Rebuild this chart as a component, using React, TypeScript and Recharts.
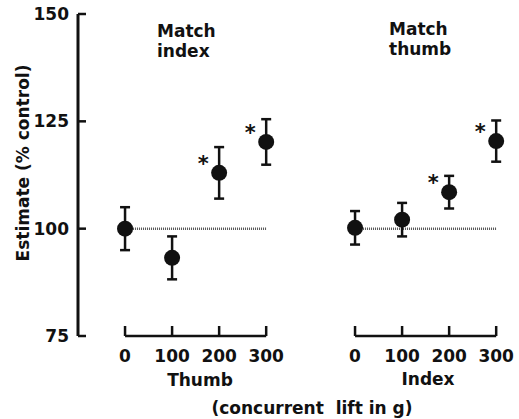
import React from "react";
import {
  ScatterChart,
  Scatter,
  XAxis,
  YAxis,
  ErrorBar,
  ReferenceLine,
} from "recharts";

// concurrent lift (g)
const loads = [0, 100, 200, 300];

// Match index panel (concurrent lift on thumb)
const matchIndexMean = [100, 93.2, 113, 120.2];
const matchIndexErr = [5, 5, 6, 5.3];
const matchIndexSig = [false, false, true, true];

// Match thumb panel (concurrent lift on index)
const matchThumbMean = [100.2, 102.1, 108.5, 120.4];
const matchThumbErr = [3.9, 3.9, 3.8, 4.8];
const matchThumbSig = [false, false, true, true];

const yTicks = [75, 100, 125, 150];
const xDomain = [-100, 340];

const FONT = "'DejaVu Sans', sans-serif";
const INK = "#111";

const build = (mean: number[], err: number[], sig: boolean[]) =>
  loads.map((x, i) => ({ x, y: mean[i], err: err[i], sig: sig[i] }));

const indexData = build(matchIndexMean, matchIndexErr, matchIndexSig);
const thumbData = build(matchThumbMean, matchThumbErr, matchThumbSig);

const Dot = (props: any) => {
  const { cx, cy, payload } = props;
  return (
    <g>
      <circle cx={cx} cy={cy} r={8} fill={INK} />
      {payload.sig && (
        <text
          x={cx - 16}
          y={cy - 2}
          textAnchor="middle"
          fontFamily={FONT}
          fontWeight="bold"
          fontSize={21}
          fill={INK}
        >
          *
        </text>
      )}
    </g>
  );
};

const XTick = (props: any) => {
  const { x, y, payload } = props;
  return (
    <g>
      <line x1={x} y1={y} x2={x} y2={y - 10} stroke={INK} strokeWidth={2.5} />
      <text
        x={x}
        y={y + 26}
        textAnchor="middle"
        fontFamily={FONT}
        fontWeight="bold"
        fontSize={17}
        fill={INK}
      >
        {payload.value}
      </text>
    </g>
  );
};

const YTick = (props: any) => {
  const { x, y, payload } = props;
  return (
    <g>
      <line x1={x} y1={y} x2={x + 8} y2={y} stroke={INK} strokeWidth={2.5} />
      <text
        x={x - 9}
        y={y + 6}
        textAnchor="end"
        fontFamily={FONT}
        fontWeight="bold"
        fontSize={17}
        fill={INK}
      >
        {payload.value}
      </text>
    </g>
  );
};

const Panel = ({
  data,
  showY,
  width,
  margin,
}: {
  data: any[];
  showY: boolean;
  width: number;
  margin: { top: number; right: number; bottom: number; left: number };
}) => (
  <ScatterChart width={width} height={419} margin={margin}>
    <XAxis
      type="number"
      dataKey="x"
      domain={xDomain}
      ticks={loads}
      interval={0}
      axisLine={false}
      tickLine={false}
      tickSize={0}
      tickMargin={0}
      height={83}
      tick={<XTick />}
    />
    <YAxis
      type="number"
      dataKey="y"
      domain={[75, 150]}
      ticks={yTicks}
      hide={!showY}
      width={60}
      axisLine={{ stroke: INK, strokeWidth: 3 }}
      tickLine={false}
      tickSize={0}
      tickMargin={0}
      tick={<YTick />}
    />
    <ReferenceLine
      segment={[
        { x: 0, y: 75 },
        { x: 300, y: 75 },
      ]}
      stroke={INK}
      strokeWidth={2.5}
    />
    <ReferenceLine
      segment={[
        { x: 0, y: 100 },
        { x: 300, y: 100 },
      ]}
      stroke="#555"
      strokeWidth={2.5}
      strokeDasharray="1 1"
    />
    <Scatter data={data} shape={<Dot />} isAnimationActive={false}>
      <ErrorBar
        dataKey="err"
        direction="y"
        width={5}
        stroke={INK}
        strokeWidth={2.5}
        isAnimationActive={false}
      />
    </Scatter>
  </ScatterChart>
);

const textStyle = {
  fontFamily: FONT,
  fontWeight: "bold" as const,
  fontSize: 17,
  fill: INK,
};

export default function App() {
  return (
    <div
      style={{
        position: "absolute",
        left: 0,
        top: 0,
        width: 519,
        height: 419,
        background: "#fff",
      }}
    >
      <div style={{ position: "absolute", left: 0, top: 0 }}>
        <Panel
          data={indexData}
          showY
          width={290}
          margin={{ top: 14, right: 5, bottom: 0, left: 18 }}
        />
      </div>
      <div style={{ position: "absolute", left: 290, top: 0 }}>
        <Panel
          data={thumbData}
          showY={false}
          width={229}
          margin={{ top: 14, right: 4, bottom: 0, left: 18 }}
        />
      </div>
      <svg
        width={519}
        height={419}
        style={{ position: "absolute", left: 0, top: 0, pointerEvents: "none" }}
      >
        <text {...textStyle} x={157} y={37}>Match</text>
        <text {...textStyle} x={157} y={57}>index</text>
        <text {...textStyle} x={389} y={35}>Match</text>
        <text {...textStyle} x={389} y={55}>thumb</text>
        <text {...textStyle} x={200} y={386} textAnchor="middle">Thumb</text>
        <text {...textStyle} x={428} y={385} textAnchor="middle">Index</text>
        <text {...textStyle} x={312} y={414} textAnchor="middle" xmlSpace="preserve">
          (concurrent  lift in g)
        </text>
        <text
          {...textStyle}
          x={23}
          y={163}
          textAnchor="middle"
          dominantBaseline="central"
          transform="rotate(-90 23 163)"
        >
          Estimate (% control)
        </text>
      </svg>
    </div>
  );
}
